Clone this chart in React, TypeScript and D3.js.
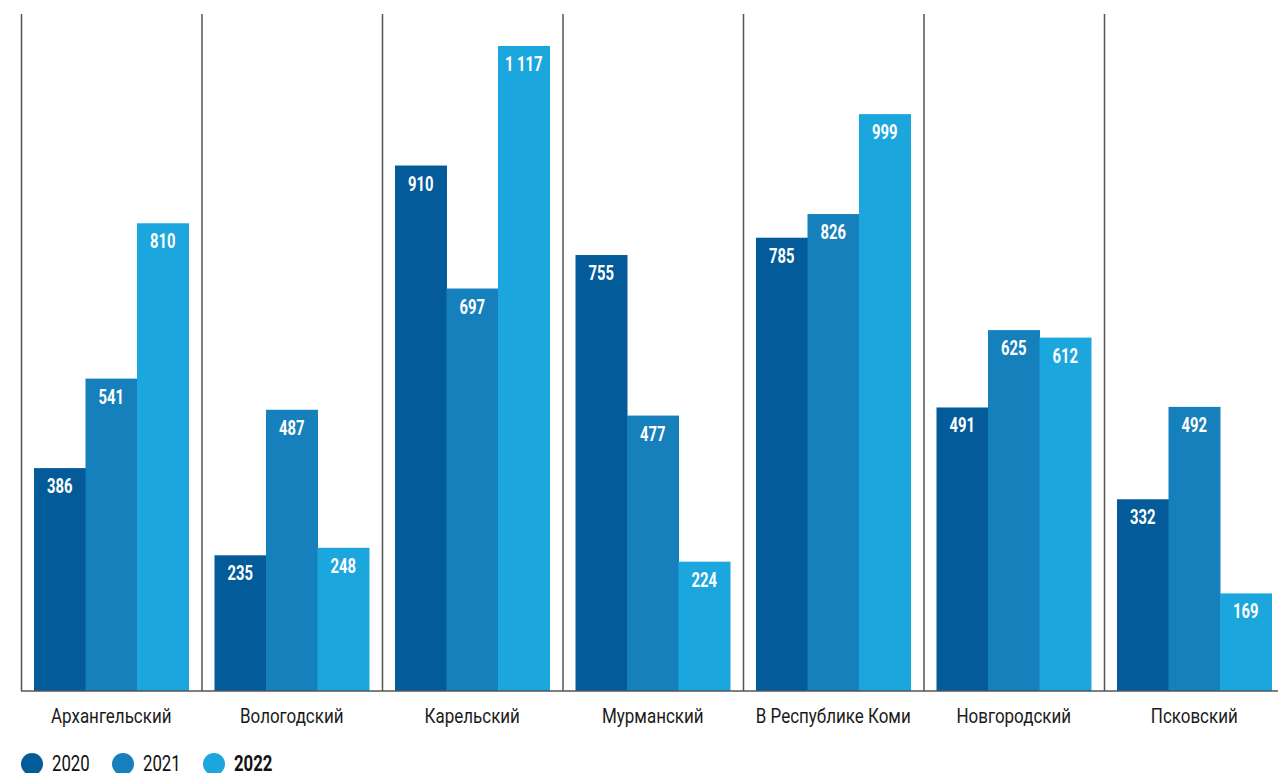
import React from "react";
import * as d3 from "d3";

const categories = ["Архангельский", "Вологодский", "Карельский", "Мурманский", "В Республике Коми", "Новгородский", "Псковский"];
const years = ["2020", "2021", "2022"];
const values2020 = [386, 235, 910, 755, 785, 491, 332];
const values2021 = [541, 487, 697, 477, 826, 625, 492];
const values2022 = [810, 248, 1117, 224, 999, 612, 169];
const colors = ["#035B9A", "#1680BC", "#1BA6DE"];

const W = 1278;
const H = 773;
const FONT = "Roboto, 'Noto Sans', sans-serif";

function CText(props: { x: number; y: number; sx: number; anchor?: string; fill: string; size: number; weight?: string; children: React.ReactNode }) {
  const { x, y, sx, anchor, fill, size, weight, children } = props;
  return (
    <text transform={`translate(${x},${y}) scale(${sx},1)`} textAnchor={anchor || "start"} fill={fill} fontFamily={FONT} fontSize={size} fontWeight={weight || "normal"}>
      {children}
    </text>
  );
}

export default function App() {
  const series = [values2020, values2021, values2022];
  const x0 = d3.scaleBand<string>().domain(categories).range([21, 21 + 180.5 * 7]).padding(0);
  const x1 = d3.scaleBand<string>().domain(years).range([13, 13 + 51.5 * 3]).padding(0);
  const y = d3.scaleLinear().domain([0, 1117]).range([691, 46]);
  const fmt = (v: number) => d3.format(",")(v).replace(/,/g, " ");

  return (
    <svg width={W} height={H} style={{ position: "absolute", left: 0, top: 0, background: "#fff" }}>
      {categories.map((c, i) => (
        <g key={c} transform={`translate(${x0(c)},0)`}>
          {years.map((yr, j) => {
            const v = series[j][i];
            const bx = x1(yr)!;
            return (
              <g key={yr}>
                <rect x={bx} y={y(v)} width={x1.bandwidth() + 0.5} height={y(0) - y(v)} fill={colors[j]} />
                <CText x={bx + x1.bandwidth() / 2} y={y(v) + 25} sx={0.76} anchor="middle" fill="#fff" size={19.5} weight="bold">
                  {fmt(v)}
                </CText>
              </g>
            );
          })}
          <line x1={0.5} x2={0.5} y1={14} y2={691} stroke="#555" strokeWidth={1.5} />
          <CText x={x0.bandwidth() / 2} y={722.5} sx={0.87} anchor="middle" fill="#1a1a1a" size={19.5}>
            {c}
          </CText>
        </g>
      ))}
      <line x1={21} x2={W} y1={691} y2={691} stroke="#555" strokeWidth={1.5} />
      {years.map((yr, j) => {
        const lx = 32 + j * 91;
        return (
          <g key={yr}>
            <circle cx={lx} cy={764} r={11} fill={colors[j]} />
            <CText x={lx + 20} y={771} sx={0.78} fill="#111" size={21.5} weight={j === 2 ? "bold" : "normal"}>
              {yr}
            </CText>
          </g>
        );
      })}
    </svg>
  );
}
